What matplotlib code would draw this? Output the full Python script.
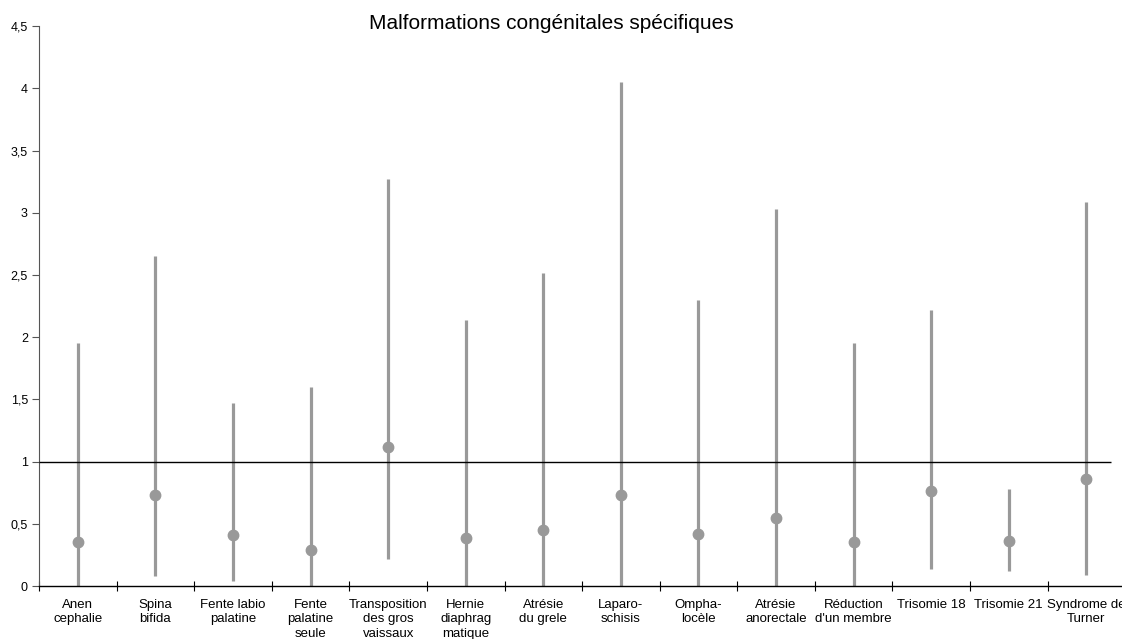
import matplotlib
matplotlib.use("Agg")
import matplotlib.pyplot as plt
import numpy as np

plt.rcParams['font.family'] = ['Liberation Sans', 'DejaVu Sans']

labels = ["Anen\ncephalie", "Spina\nbifida", "Fente labio\npalatine", "Fente\npalatine\nseule",
          "Transposition\ndes gros\nvaissaux", "Hernie\ndiaphrag\nmatique", "Atrésie\ndu grele",
          "Laparo-\nschisis", "Ompha-\nlocèle", "Atrésie\nanorectale", "Réduction\nd'un membre",
          "Trisomie 18", "Trisomie 21", "Syndrome de\nTurner"]
estimate = [0.35, 0.73, 0.41, 0.29, 1.12, 0.39, 0.45, 0.73, 0.42, 0.55, 0.35, 0.76, 0.36, 0.86]
lower = [0.0, 0.08, 0.04, 0.0, 0.22, 0.0, 0.0, 0.0, 0.0, 0.0, 0.0, 0.14, 0.12, 0.09]
upper = [1.95, 2.65, 1.47, 1.60, 3.27, 2.14, 2.52, 4.05, 2.30, 3.03, 1.95, 2.22, 0.78, 3.09]
yticks = [0, 0.5, 1, 1.5, 2, 2.5, 3, 3.5, 4, 4.5]

fig = plt.figure(figsize=(11.22, 6.39), dpi=100)
ax = fig.add_axes([0.0348, 0.0829, 0.968, 0.876])

x = np.arange(len(labels)) + 0.5
gris = "#999999"
ax.vlines(x, lower, upper, colors=gris, linewidth=2.3, zorder=2)
ax.plot(x, estimate, "o", color=gris, markersize=7.5, zorder=3)
ax.hlines(1, 0, 13.82, colors="black", linewidth=1, zorder=4)

ax.set_xlim(0, 14)
ax.set_ylim(0, 4.5)
ax.set_yticks(yticks)
ax.set_yticklabels([("%g" % v).replace(".", ",") for v in yticks], fontsize=9)
ax.set_xticks(np.arange(0, 14))
ax.set_xticklabels([])
ax.set_xticks(x, minor=True)
ax.set_xticklabels(labels, minor=True, fontsize=9.5, linespacing=1.32)
ax.tick_params(axis="x", which="minor", length=0, pad=9)
ax.tick_params(axis="x", which="major", direction="inout", length=7, width=0.8)
ax.tick_params(axis="y", direction="out", length=5, width=0.8, colors="#555555", labelcolor="black", pad=3)

for s in ["top", "right"]:
    ax.spines[s].set_visible(False)
ax.spines["left"].set_color("#555555")
ax.spines["bottom"].set_linewidth(1)

fig.text(0.491, 0.963, "Malformations congénitales spécifiques", ha="center", va="center", fontsize=15)

fig.savefig("out.png", dpi=100)
